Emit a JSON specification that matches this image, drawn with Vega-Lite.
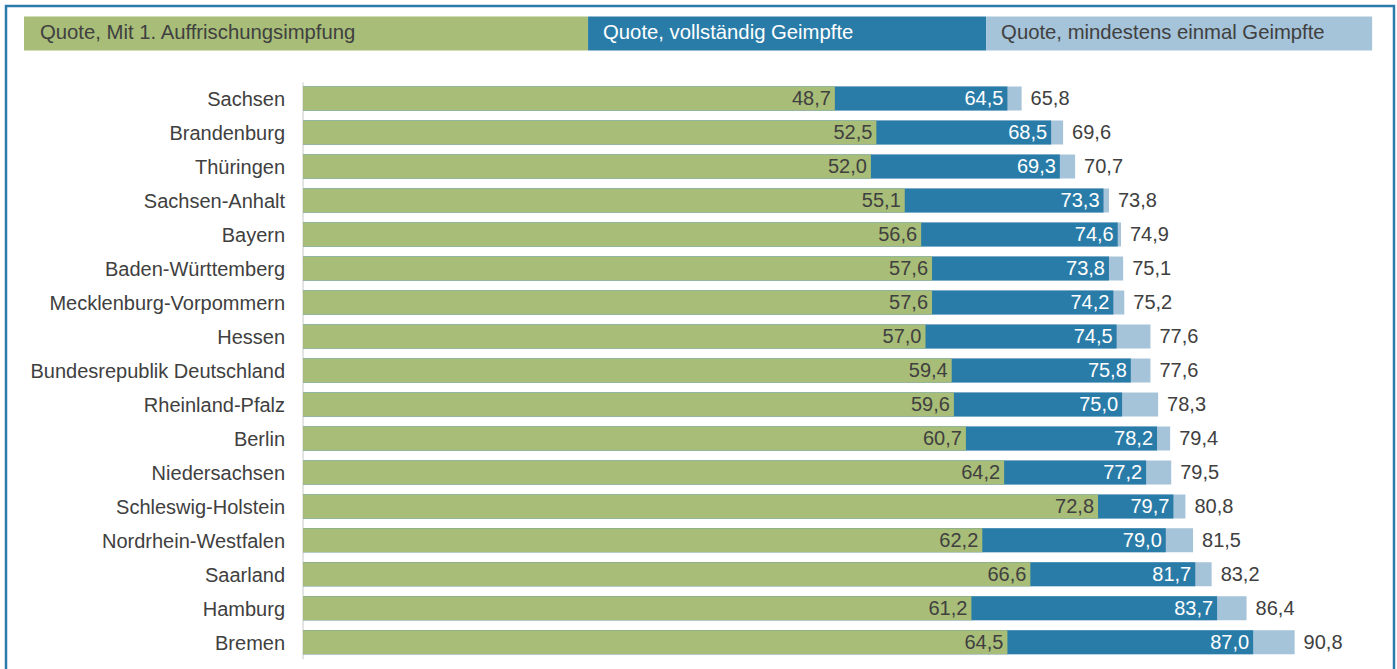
{
  "$schema": "https://vega.github.io/schema/vega-lite/v6.json",
  "width": 1397,
  "height": 669,
  "autosize": {"type": "fit", "contains": "padding"},
  "padding": {"left": 6, "top": 6, "right": 3, "bottom": -3},
  "background": "white",
  "config": {
    "view": {"stroke": "#2b7bab", "strokeWidth": 2.5},
    "locale": {"number": {"decimal": ",", "thousands": ".", "grouping": [3], "currency": ["", " €"]}},
    "text": {"font": "Liberation Sans", "fontSize": 20, "color": "#404040"}
  },
  "datasets": {
    "quoten": [
      {"Land": "Sachsen", "Auffrischung": 48.7, "Vollstaendig": 64.5, "Mindestens": 65.8},
      {"Land": "Brandenburg", "Auffrischung": 52.5, "Vollstaendig": 68.5, "Mindestens": 69.6},
      {"Land": "Thüringen", "Auffrischung": 52.0, "Vollstaendig": 69.3, "Mindestens": 70.7},
      {"Land": "Sachsen-Anhalt", "Auffrischung": 55.1, "Vollstaendig": 73.3, "Mindestens": 73.8},
      {"Land": "Bayern", "Auffrischung": 56.6, "Vollstaendig": 74.6, "Mindestens": 74.9},
      {"Land": "Baden-Württemberg", "Auffrischung": 57.6, "Vollstaendig": 73.8, "Mindestens": 75.1},
      {"Land": "Mecklenburg-Vorpommern", "Auffrischung": 57.6, "Vollstaendig": 74.2, "Mindestens": 75.2},
      {"Land": "Hessen", "Auffrischung": 57.0, "Vollstaendig": 74.5, "Mindestens": 77.6},
      {"Land": "Bundesrepublik Deutschland", "Auffrischung": 59.4, "Vollstaendig": 75.8, "Mindestens": 77.6},
      {"Land": "Rheinland-Pfalz", "Auffrischung": 59.6, "Vollstaendig": 75.0, "Mindestens": 78.3},
      {"Land": "Berlin", "Auffrischung": 60.7, "Vollstaendig": 78.2, "Mindestens": 79.4},
      {"Land": "Niedersachsen", "Auffrischung": 64.2, "Vollstaendig": 77.2, "Mindestens": 79.5},
      {"Land": "Schleswig-Holstein", "Auffrischung": 72.8, "Vollstaendig": 79.7, "Mindestens": 80.8},
      {"Land": "Nordrhein-Westfalen", "Auffrischung": 62.2, "Vollstaendig": 79.0, "Mindestens": 81.5},
      {"Land": "Saarland", "Auffrischung": 66.6, "Vollstaendig": 81.7, "Mindestens": 83.2},
      {"Land": "Hamburg", "Auffrischung": 61.2, "Vollstaendig": 83.7, "Mindestens": 86.4},
      {"Land": "Bremen", "Auffrischung": 64.5, "Vollstaendig": 87.0, "Mindestens": 90.8}
    ],
    "eins": [{}]
  },
  "data": {"name": "quoten"},
  "encoding": {
    "y": {
      "field": "Land",
      "type": "nominal",
      "scale": {
        "type": "band",
        "domain": ["Legende", "Abstand", "Sachsen", "Brandenburg", "Thüringen", "Sachsen-Anhalt", "Bayern", "Baden-Württemberg", "Mecklenburg-Vorpommern", "Hessen", "Bundesrepublik Deutschland", "Rheinland-Pfalz", "Berlin", "Niedersachsen", "Schleswig-Holstein", "Nordrhein-Westfalen", "Saarland", "Hamburg", "Bremen"],
        "paddingInner": 0,
        "paddingOuter": 0.295,
        "align": 0.37
      },
      "axis": null
    }
  },
  "layer": [
    {
      "data": {"name": "eins"},
      "mark": {"type": "rect", "height": 34, "yOffset": 3},
      "encoding": {
        "x": {"datum": -25.55, "type": "quantitative", "scale": {"domain": [-27.2, 99.9], "nice": false, "zero": false}, "axis": null},
        "x2": {"datum": 26.1},
        "y": {"datum": "Legende"},
        "color": {"datum": "Quote, Mit 1. Auffrischungsimpfung", "type": "nominal", "scale": {"domain": ["Quote, Mit 1. Auffrischungsimpfung", "Quote, vollständig Geimpfte", "Quote, mindestens einmal Geimpfte"], "range": ["#a8bd78", "#2a7ca8", "#a5c3d9"]}, "legend": null}
      }
    },
    {
      "data": {"name": "eins"},
      "mark": {"type": "rect", "height": 34, "yOffset": 3},
      "encoding": {
        "x": {"datum": 26.1, "type": "quantitative"},
        "x2": {"datum": 62.55},
        "y": {"datum": "Legende"},
        "color": {"datum": "Quote, vollständig Geimpfte", "type": "nominal"}
      }
    },
    {
      "data": {"name": "eins"},
      "mark": {"type": "rect", "height": 34, "yOffset": 3},
      "encoding": {
        "x": {"datum": 62.55, "type": "quantitative"},
        "x2": {"datum": 97.9},
        "y": {"datum": "Legende"},
        "color": {"datum": "Quote, mindestens einmal Geimpfte", "type": "nominal"}
      }
    },
    {
      "data": {"name": "eins"},
      "mark": {"type": "text", "align": "left", "baseline": "middle", "dx": 16, "yOffset": 3, "fontSize": 20.3},
      "encoding": {
        "x": {"datum": -25.55, "type": "quantitative"},
        "y": {"datum": "Legende"},
        "text": {"value": "Quote, Mit 1. Auffrischungsimpfung"}
      }
    },
    {
      "data": {"name": "eins"},
      "mark": {"type": "text", "align": "left", "baseline": "middle", "dx": 15, "yOffset": 3, "fontSize": 20.3, "color": "white"},
      "encoding": {
        "x": {"datum": 26.1, "type": "quantitative"},
        "y": {"datum": "Legende"},
        "text": {"value": "Quote, vollständig Geimpfte"}
      }
    },
    {
      "data": {"name": "eins"},
      "mark": {"type": "text", "align": "left", "baseline": "middle", "dx": 15, "yOffset": 3, "fontSize": 20.3},
      "encoding": {
        "x": {"datum": 62.55, "type": "quantitative"},
        "y": {"datum": "Legende"},
        "text": {"value": "Quote, mindestens einmal Geimpfte"}
      }
    },
    {
      "data": {"name": "eins"},
      "mark": {"type": "rule", "color": "#c8c8c8", "strokeWidth": 1, "yOffset": -16, "y2Offset": 17},
      "encoding": {
        "x": {"datum": 0, "type": "quantitative"},
        "y": {"datum": "Sachsen"},
        "y2": {"datum": "Bremen"}
      }
    },
    {
      "mark": {"type": "bar", "height": 24},
      "encoding": {
        "x": {"field": "Mindestens", "type": "quantitative"},
        "x2": {"datum": 0},
        "color": {"datum": "Quote, mindestens einmal Geimpfte", "type": "nominal"}
      }
    },
    {
      "mark": {"type": "bar", "height": 24},
      "encoding": {
        "x": {"field": "Vollstaendig", "type": "quantitative"},
        "x2": {"datum": 0},
        "color": {"datum": "Quote, vollständig Geimpfte", "type": "nominal"}
      }
    },
    {
      "mark": {"type": "bar", "height": 24},
      "encoding": {
        "x": {"field": "Auffrischung", "type": "quantitative"},
        "x2": {"datum": 0},
        "color": {"datum": "Quote, Mit 1. Auffrischungsimpfung", "type": "nominal"}
      }
    },
    {
      "mark": {"type": "text", "align": "right", "baseline": "middle", "dx": -18, "dy": 2},
      "encoding": {
        "x": {"datum": 0, "type": "quantitative"},
        "text": {"field": "Land", "type": "nominal"}
      }
    },
    {
      "mark": {"type": "text", "align": "right", "baseline": "middle", "dx": -4, "dy": 1},
      "encoding": {
        "x": {"field": "Auffrischung", "type": "quantitative"},
        "text": {"field": "Auffrischung", "type": "quantitative", "format": ".1f"}
      }
    },
    {
      "mark": {"type": "text", "align": "right", "baseline": "middle", "dx": -4, "dy": 1, "color": "white"},
      "encoding": {
        "x": {"field": "Vollstaendig", "type": "quantitative"},
        "text": {"field": "Vollstaendig", "type": "quantitative", "format": ".1f"}
      }
    },
    {
      "mark": {"type": "text", "align": "left", "baseline": "middle", "dx": 9, "dy": 1},
      "encoding": {
        "x": {"field": "Mindestens", "type": "quantitative"},
        "text": {"field": "Mindestens", "type": "quantitative", "format": ".1f"}
      }
    }
  ]
}
